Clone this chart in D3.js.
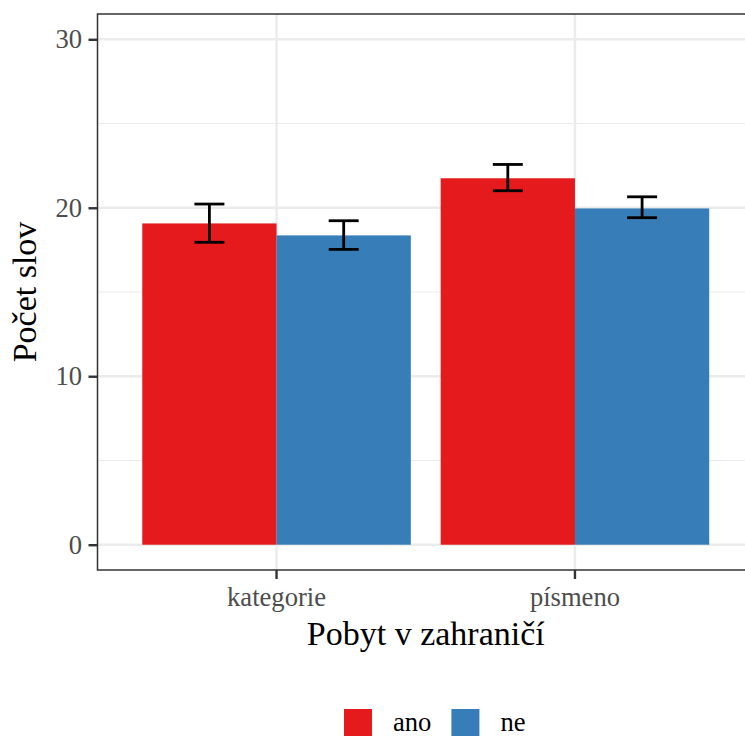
<!DOCTYPE html>
<html>
<head>
<meta charset="utf-8">
<script src="https://cdn.jsdelivr.net/npm/d3@7"></script>
<style>
  html, body { margin: 0; padding: 0; background: #fff; }
  svg { display: block; }
  svg text { font-family: "Liberation Serif", "Times New Roman", serif !important; }
</style>
</head>
<body>
<svg id="chart" width="745" height="736"></svg>
<script>
// Mean word counts by task type and stay abroad, with error bars
const categories = ["kategorie", "písmeno"];
const groups = ["ano", "ne"];
const meanAno = [19.07, 21.75];
const meanNe = [18.36, 19.96];
const lowerAno = [17.95, 21.01];
const upperAno = [20.22, 22.57];
const lowerNe = [17.53, 19.41];
const upperNe = [19.23, 20.65];
const yTicks = [0, 10, 20, 30];
const yMinor = [5, 15, 25];
const colors = ["#E41A1C", "#377EB8"];
const xTitle = "Pobyt v zahraničí";
const yTitle = "Počet slov";

const rows = [];
categories.forEach((c, i) => {
  rows.push({ cat: c, grp: "ano", mean: meanAno[i], lo: lowerAno[i], hi: upperAno[i] });
  rows.push({ cat: c, grp: "ne", mean: meanNe[i], lo: lowerNe[i], hi: upperNe[i] });
});

const svg = d3.select("#chart");
const panel = { left: 97.5, right: 754, top: 14, bottom: 570 };

const x = d3.scaleBand().domain(categories)
  .range([panel.left, panel.right]).paddingInner(0.1).paddingOuter(0.15);
const xg = d3.scaleBand().domain(groups).range([0, x.bandwidth()]).padding(0);
const y = d3.scaleLinear().domain([-1.5, 31.5]).range([panel.bottom, panel.top]);
const color = d3.scaleOrdinal().domain(groups).range(colors);

// panel background grid
const grid = svg.append("g");
grid.selectAll(".minor").data(yMinor).join("line")
  .attr("x1", panel.left).attr("x2", panel.right)
  .attr("y1", d => y(d)).attr("y2", d => y(d))
  .attr("stroke", "#ebebeb").attr("stroke-width", 1.2);
grid.selectAll(".major").data(yTicks).join("line")
  .attr("x1", panel.left).attr("x2", panel.right)
  .attr("y1", d => y(d)).attr("y2", d => y(d))
  .attr("stroke", "#ebebeb").attr("stroke-width", 2.4);
grid.selectAll(".vmajor").data(categories).join("line")
  .attr("x1", d => x(d) + x.bandwidth() / 2).attr("x2", d => x(d) + x.bandwidth() / 2)
  .attr("y1", panel.top).attr("y2", panel.bottom)
  .attr("stroke", "#ebebeb").attr("stroke-width", 2.4);

// bars
svg.append("g").selectAll("rect").data(rows).join("rect")
  .attr("x", d => x(d.cat) + xg(d.grp))
  .attr("width", xg.bandwidth())
  .attr("y", d => y(d.mean))
  .attr("height", d => y(0) - y(d.mean))
  .attr("fill", d => color(d.grp));

// error bars
const capHalf = 15;
const eb = svg.append("g").attr("stroke", "#000").attr("stroke-width", 2.8).attr("fill", "none");
rows.forEach(d => {
  const cx = x(d.cat) + xg(d.grp) + xg.bandwidth() / 2;
  eb.append("line").attr("x1", cx).attr("x2", cx).attr("y1", y(d.lo)).attr("y2", y(d.hi));
  eb.append("line").attr("x1", cx - capHalf).attr("x2", cx + capHalf).attr("y1", y(d.hi)).attr("y2", y(d.hi));
  eb.append("line").attr("x1", cx - capHalf).attr("x2", cx + capHalf).attr("y1", y(d.lo)).attr("y2", y(d.lo));
});

// panel border
svg.append("rect")
  .attr("x", panel.left).attr("y", panel.top)
  .attr("width", panel.right - panel.left).attr("height", panel.bottom - panel.top)
  .attr("fill", "none").attr("stroke", "#333333").attr("stroke-width", 1.5);

// axes
const yAxis = svg.append("g").attr("transform", `translate(${panel.left},0)`)
  .call(d3.axisLeft(y).tickValues(yTicks).tickSize(9).tickPadding(6.5));
const xAxis = svg.append("g").attr("transform", `translate(0,${panel.bottom})`)
  .call(d3.axisBottom(x).tickSize(9));
[yAxis, xAxis].forEach(a => {
  a.attr("font-family", null);
  a.select(".domain").remove();
  a.selectAll(".tick line").attr("stroke", "#333333").attr("stroke-width", 2.4);
  a.selectAll(".tick text").attr("fill", "#4d4d4d").style("font-size", "26.6px");
});
xAxis.selectAll(".tick text").attr("y", 36).attr("dy", 0);

// axis titles
svg.append("text").attr("x", (panel.left + panel.right) / 2).attr("y", 645)
  .attr("text-anchor", "middle").style("font-size", "34px").attr("fill", "#000")
  .text(xTitle);
svg.append("text").attr("transform", `translate(36,${(panel.top + panel.bottom) / 2}) rotate(-90)`)
  .attr("text-anchor", "middle").style("font-size", "34px").attr("fill", "#000")
  .text(yTitle);

// legend
const legend = svg.append("g").attr("transform", "translate(344,709)");
let lx = 0;
groups.forEach(g => {
  legend.append("rect").attr("x", lx).attr("y", 0).attr("width", 28).attr("height", 28)
    .attr("fill", color(g));
  const t = legend.append("text").attr("x", lx + 49).attr("y", 22)
    .style("font-size", "26.6px").attr("fill", "#000").text(g);
  lx += 49 + t.node().getComputedTextLength() + 20;
});
</script>
</body>
</html>
